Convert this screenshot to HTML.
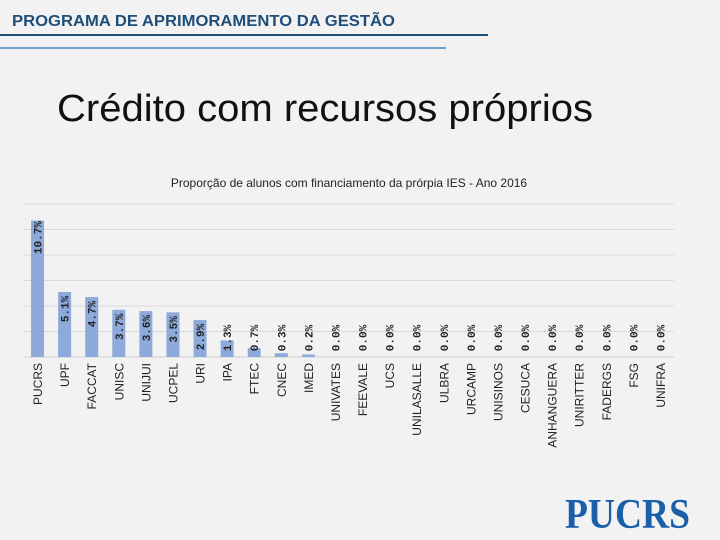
<!DOCTYPE html>
<html><head><meta charset="utf-8"><style>
body{margin:0;background:#f2f2f2;}
svg{display:block;}
</style></head><body>
<svg width="720" height="540" viewBox="0 0 720 540" xmlns="http://www.w3.org/2000/svg">
<rect x="0" y="0" width="720" height="540" fill="#f2f2f2"/>
<text x="12" y="26" font-family="Liberation Sans, sans-serif" font-weight="bold" font-size="15.5" fill="#1f4e79" textLength="383" lengthAdjust="spacingAndGlyphs">PROGRAMA DE APRIMORAMENTO DA GESTÃO</text>
<rect x="0" y="34" width="488" height="2" fill="#1f4e79"/>
<rect x="0" y="47" width="446" height="2" fill="#6fa0d0"/>
<text x="57" y="121" font-family="Liberation Sans, sans-serif" font-size="38" fill="#111" textLength="536" lengthAdjust="spacingAndGlyphs">Crédito com recursos próprios</text>
<text x="349" y="187" text-anchor="middle" font-family="Liberation Sans, sans-serif" font-size="12" fill="#222">Proporção de alunos com financiamento da prórpia IES  - Ano 2016</text>
<g id="chart"></g>
<text x="565" y="528" font-family="Liberation Serif, serif" font-weight="bold" font-size="42" fill="#1a5fa8" textLength="125" lengthAdjust="spacingAndGlyphs">PUCRS</text>
</svg>
<script>
const categories = ["PUCRS","UPF","FACCAT","UNISC","UNIJUI","UCPEL","URI","IPA","FTEC","CNEC","IMED","UNIVATES","FEEVALE","UCS","UNILASALLE","ULBRA","URCAMP","UNISINOS","CESUCA","ANHANGUERA","UNIRITTER","FADERGS","FSG","UNIFRA"];
const values = [10.7,5.1,4.7,3.7,3.6,3.5,2.9,1.3,0.7,0.3,0.2,0,0,0,0,0,0,0,0,0,0,0,0,0];
const valueLabels = ["10.7%","5.1%","4.7%","3.7%","3.6%","3.5%","2.9%","1.3%","0.7%","0.3%","0.2%","0.0%","0.0%","0.0%","0.0%","0.0%","0.0%","0.0%","0.0%","0.0%","0.0%","0.0%","0.0%","0.0%"];
const gridTicks = [0,2,4,6,8,10,12];

const NS = "http://www.w3.org/2000/svg";
const chartG = document.getElementById("chart");
const plotLeft = 24, plotRight = 674, plotBase = 357, plotTop = 204, yMax = 12;
const band = (plotRight - plotLeft) / categories.length;
const yScale = v => plotBase - (v / yMax) * (plotBase - plotTop);
const xc = i => plotLeft + band * (i + 0.5);

gridTicks.forEach(t => {
  const l = document.createElementNS(NS, "line");
  l.setAttribute("x1", plotLeft); l.setAttribute("x2", plotRight);
  l.setAttribute("y1", yScale(t)); l.setAttribute("y2", yScale(t));
  l.setAttribute("stroke", t === 0 ? "#cfcfcf" : "#d9d9d9");
  l.setAttribute("stroke-width", "1");
  
  
  chartG.appendChild(l);
});

categories.forEach((c, i) => {
  const bw = 13;
  const r = document.createElementNS(NS, "rect");
  r.setAttribute("x", xc(i) - bw / 2);
  r.setAttribute("y", yScale(values[i]));
  r.setAttribute("width", bw);
  r.setAttribute("height", plotBase - yScale(values[i]));
  r.setAttribute("fill", "#8eaadb");
  
  
  chartG.appendChild(r);

  const cy = Math.min(yScale(values[i]) + 17, 338);
  const vl = document.createElementNS(NS, "text");
  vl.setAttribute("transform", "translate(" + (xc(i) + 4) + "," + cy + ") rotate(-90)");
  vl.setAttribute("text-anchor", "middle");
  vl.setAttribute("font-family", "Liberation Mono, monospace");
  vl.setAttribute("font-weight", "bold");
  vl.setAttribute("font-size", "11");
  vl.setAttribute("fill", "#222");
  vl.textContent = valueLabels[i];
  
  
  chartG.appendChild(vl);

  const cl = document.createElementNS(NS, "text");
  cl.setAttribute("transform", "translate(" + (xc(i) + 4.5) + ",363) rotate(-90)");
  cl.setAttribute("text-anchor", "end");
  cl.setAttribute("font-family", "Liberation Sans, sans-serif");
  cl.setAttribute("font-size", "12");
  cl.setAttribute("fill", "#222");
  cl.textContent = c;
  
  
  chartG.appendChild(cl);
});
</script>
</body></html>
